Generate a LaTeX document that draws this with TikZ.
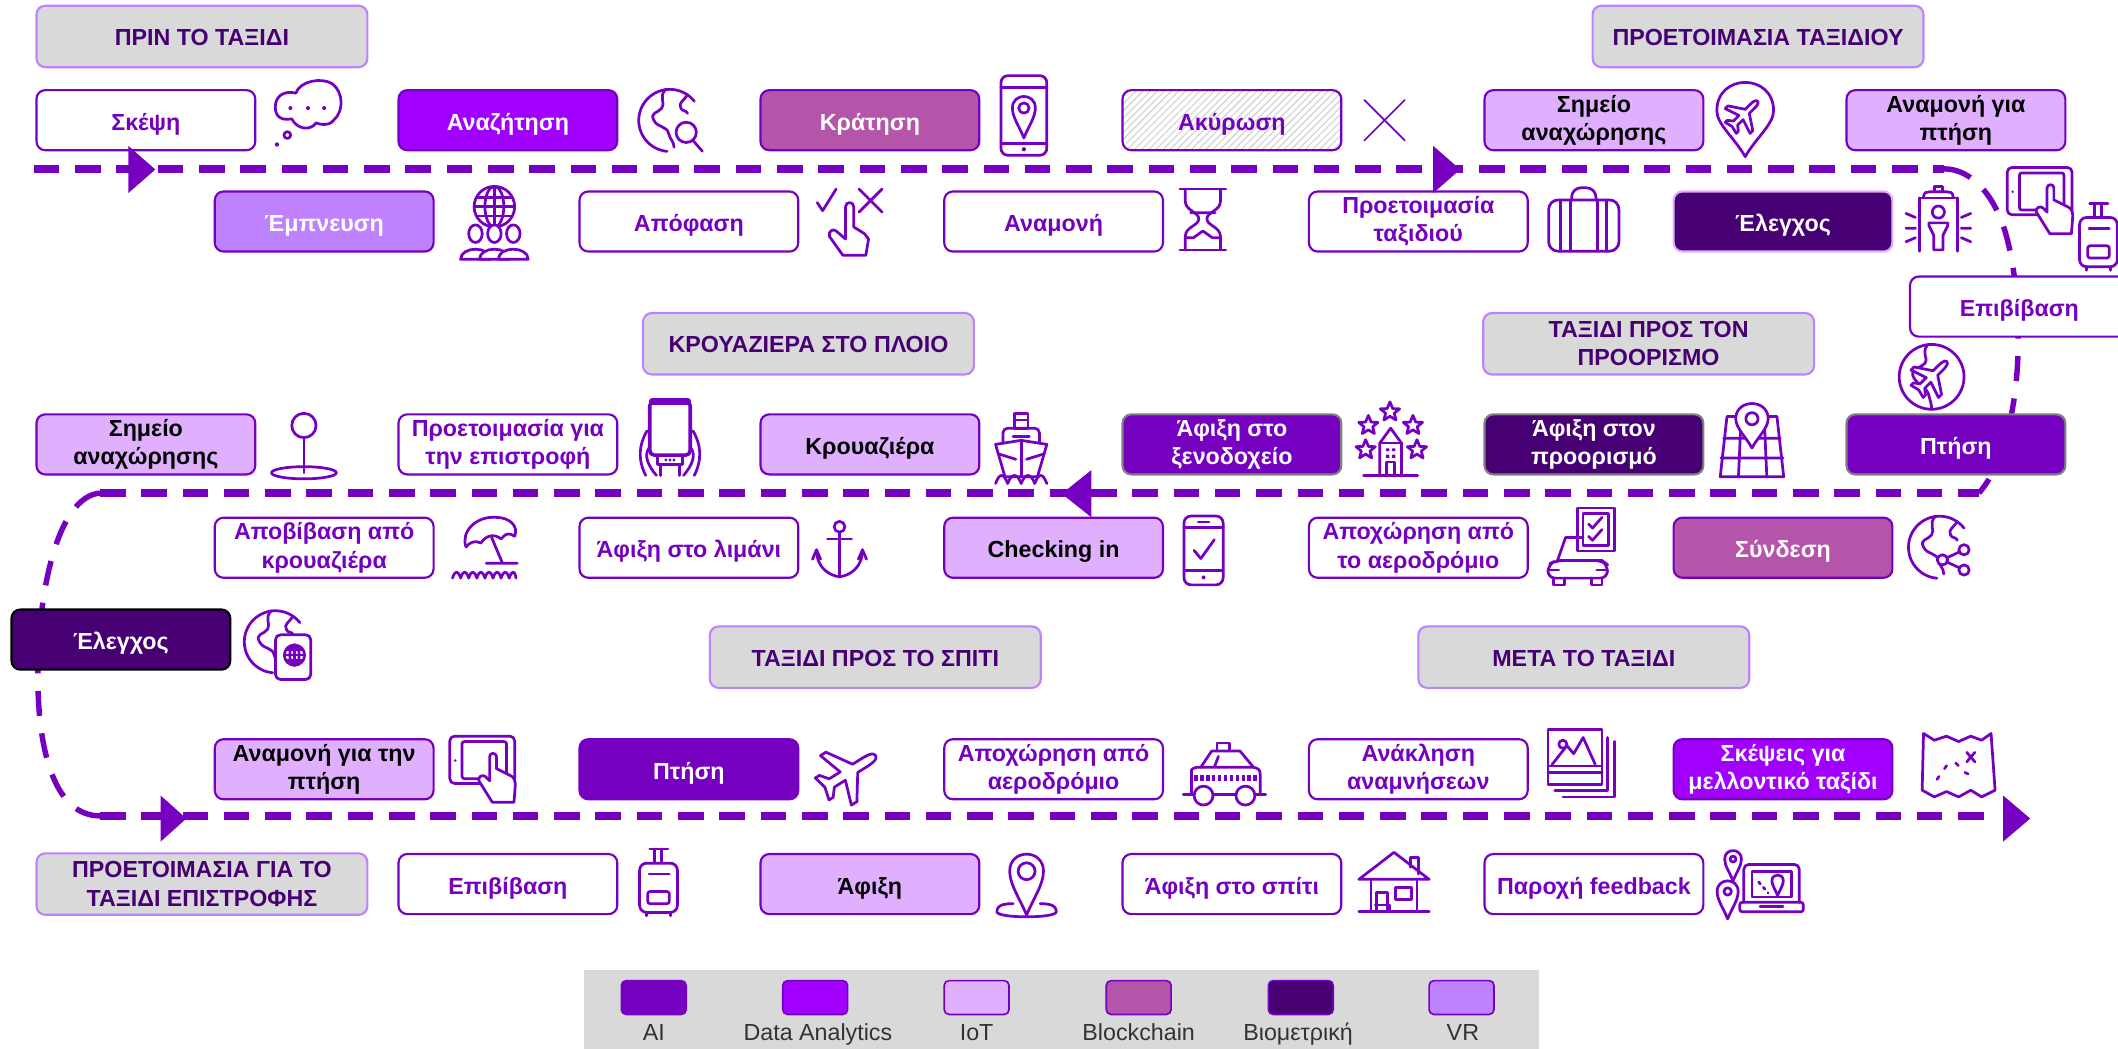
\documentclass[tikz,border=0pt]{standalone}
\usepackage{fontspec}
\setmainfont{Liberation Sans}
\usetikzlibrary{patterns}
\definecolor{aic}{HTML}{7500C0}
\definecolor{dac}{HTML}{A100FF}
\definecolor{iotc}{HTML}{E0B0FF}
\definecolor{bcc}{HTML}{B455AA}
\definecolor{bioc}{HTML}{460073}
\definecolor{vrc}{HTML}{BE82FF}
\definecolor{greyc}{HTML}{D9D9D9}
\def\strutH{10.4pt}
\tikzset{
 boxbase/.style={rectangle,rounded corners=0.13cm,draw=aic,line width=0.9pt,minimum width=3.24cm,minimum height=0.89cm,inner sep=0pt,align=center,font=\bfseries\fontsize{9.8}{11.9}\selectfont,execute at begin node={\rule{0pt}{\strutH}}},
 bwhite/.style={boxbase,fill=white,text=aic},
 bhatch/.style={boxbase,pattern=north east lines,pattern color=gray!40,text=aic},
 bai/.style={boxbase,fill=aic,text=white},
 bda/.style={boxbase,fill=dac,text=white},
 biot/.style={boxbase,fill=iotc,text=black},
 bbc/.style={boxbase,fill=bcc,text=white},
 bbio/.style={boxbase,fill=bioc,text=white},
 bvr/.style={boxbase,fill=vrc,text=white},
 bhead/.style={boxbase,fill=greyc,text=bioc,draw=vrc,minimum width=4.9cm,minimum height=0.91cm,/utils/exec={\def\strutH{7.6pt}}},
 swatch/.style={rectangle,rounded corners=0.07cm,draw=aic,line width=0.7pt,minimum width=0.96cm,minimum height=0.5cm,inner sep=0pt},
 leglab/.style={inner sep=0pt,anchor=base,font=\fontsize{9.8}{12}\selectfont,text=black!80},
 mainroute/.style={draw=aic,line width=3.4pt,dash pattern=on 10.77pt off 6.63pt},
 bendroute/.style={draw=aic,line width=2.3pt,dash pattern=on 12pt off 7.4pt on 10.5pt off 7.4pt on 10.5pt off 7.4pt on 10.5pt off 7.4pt},
 headtip/.style={fill=aic},
}
\newcommand\ico[3]{\begin{scope}[shift={(#1,#2)},color=aic,line width=1.15pt,line cap=round,line join=round]#3\end{scope}}
\newcommand\PinShape{\draw (0,26) .. controls (-4,16) and (-10,8) .. (-10,0) .. controls (-10,-13.5) and (10,-13.5) .. (10,0) .. controls (10,8) and (4,16) .. (0,26) -- cycle;}
\newcommand\PlaneShape{\draw[fill=white] (0,-20) .. controls (3,-20) and (3,-14) .. (3,-10) -- (3,-5) -- (18,5) -- (18,9) -- (3,4) -- (3,12) -- (8,16) -- (8,19) -- (0,17) -- (-8,19) -- (-8,16) -- (-3,12) -- (-3,4) -- (-18,9) -- (-18,5) -- (-3,-5) -- (-3,-10) .. controls (-3,-14) and (-3,-20) .. (0,-20) -- cycle;}
\newcommand\GlobeArc{\draw (18,-14) arc (-38:-265:23);
 \draw (-3,-23) .. controls (-9,-17) and (-3,-13) .. (-6,-9) .. controls (-9,-5) and (-15,-6) .. (-12,0) .. controls (-9,6) and (-2,4) .. (-1,10) .. controls (0,14) and (3,16) .. (3,20);
 \draw (13,-19) .. controls (10,-14) and (6,-13) .. (8,-9) .. controls (9,-6) and (12,-8) .. (13,-5);}
\newcommand\HandShape{\draw[fill=white] (2,0) -- (2,-10) .. controls (2,-13) and (7,-13) .. (7,-10) -- (7,-1) -- (17,4) .. controls (20,5) and (21,8) .. (21,11) -- (20,24) -- (4,24) -- (-6,8) .. controls (-7,5) and (-3,3) .. (-1,5) -- (2,8) -- cycle;}
\newcommand\TabletHand{\draw[rounded corners=2] (-24,-25) rectangle (24,10);
 \draw[rounded corners=1] (-15,-21) rectangle (18,6.5);
 \fill (-20,-7) circle (1);
 \begin{scope}[shift={(3.5,0)}]\HandShape\end{scope}}
\newcommand\Trolley{\draw (-6.5,-24) -- (7,-24); \draw (-3,-24) -- (-3,-13.5) (2,-24) -- (2,-13.5);
 \draw[rounded corners=3] (-14,-13.5) rectangle (14,23);
 \draw (-7,-5.5) -- (8,-5.5);
 \draw[rounded corners=1] (-8,7.5) rectangle (8,16.5);
 \draw (-9,23) -- (-9,25.5) (9,23) -- (9,25.5);}
\newcommand\StarShape{\begin{scope}[scale=1.15]\draw (0,-6.5) -- (1.8,-2.2) -- (6.2,-2) -- (2.8,0.8) -- (3.9,5.2) -- (0,2.8) -- (-3.9,5.2) -- (-2.8,0.8) -- (-6.2,-2) -- (-1.8,-2.2) -- cycle;\end{scope}}
\begin{document}
\begin{tikzpicture}[x=0.02cm,y=-0.02cm]
\useasboundingbox (0,0) rectangle (1568,776.6);
\clip (0,0) rectangle (1568,776.6);
% route ends
\coordinate (ra) at (25,125); \coordinate (rb) at (1439,125);
\coordinate (rn) at (1484,170);
\coordinate (rm) at (1494,255);
\coordinate (rc) at (1465,365); \coordinate (rd) at (74,365);
\coordinate (lm) at (28,500);
\coordinate (re) at (74,604); \coordinate (rf) at (1476,604);
\draw[mainroute] (ra) -- (rb);
\draw[bendroute] (rb) .. controls (1460,125) and (1476,145) .. (rn) .. controls (1490,190) and (1494,215) .. (rm) .. controls (1494,300) and (1483,345) .. (rc);
\draw[mainroute] (rd) -- (rc);
\draw[bendroute] (rd) .. controls (42,368) and (28,440) .. (lm) .. controls (28,560) and (42,604) .. (re);
\draw[mainroute] (re) -- (rf);
% headers
\node[bhead] (h1) at (149.5,27) {ΠΡΙΝ ΤΟ ΤΑΞΙΔΙ};
\node[bhead] (h2) at (1301.5,27) {ΠΡΟΕΤΟΙΜΑΣΙΑ ΤΑΞΙΔΙΟΥ};
\node[bhead] (h3) at (598.5,254.5) {ΚΡΟΥΑΖΙΕΡΑ ΣΤΟ ΠΛΟΙΟ};
\node[bhead] (h4) at (1220.5,254.5) {ΤΑΞΙΔΙ ΠΡΟΣ ΤΟΝ\\ΠΡΟΟΡΙΣΜΟ};
\node[bhead] (h5) at (648,486.5) {ΤΑΞΙΔΙ ΠΡΟΣ ΤΟ ΣΠΙΤΙ};
\node[bhead] (h6) at (1172.5,486.5) {ΜΕΤΑ ΤΟ ΤΑΞΙΔΙ};
\node[bhead] (h7) at (149.5,654.5) {ΠΡΟΕΤΟΙΜΑΣΙΑ ΓΙΑ ΤΟ\\ΤΑΞΙΔΙ ΕΠΙΣΤΡΟΦΗΣ};
% row 1
\node[bwhite] (a1) at (108,89) {Σκέψη};
\node[bda] (a2) at (376,89) {Αναζήτηση};
\node[bbc] (a3) at (644,89) {Κράτηση};
\node[bhatch] (a4) at (912,89) {Ακύρωση};
\node[biot] (a5) at (1180,89) {Σημείο\\αναχώρησης};
\node[biot] (a6) at (1448,89) {Αναμονή για\\πτήση};
% row 2
\node[bvr] (b1) at (240,164) {Έμπνευση};
\node[bwhite] (b2) at (510,164) {Απόφαση};
\node[bwhite] (b3) at (780,164) {Αναμονή};
\node[bwhite] (b4) at (1050,164) {Προετοιμασία\\ταξιδιού};
\node[bbio,draw=iotc] (b5) at (1320,164) {Έλεγχος};
\node[bwhite] (b6) at (1495,227) {Επιβίβαση};
% row 3
\node[biot] (c1) at (108,329) {Σημείο\\αναχώρησης};
\node[bwhite] (c2) at (376,329) {Προετοιμασία για\\την επιστροφή};
\node[biot] (c3) at (644,329) {Κρουαζιέρα};
\node[bai,draw=gray] (c4) at (912,329) {Άφιξη στο\\ξενοδοχείο};
\node[bbio,draw=gray] (c5) at (1180,329) {Άφιξη στον\\προορισμό};
\node[bai,draw=gray] (c6) at (1448,329) {Πτήση};
% row 4
\node[bwhite] (d1) at (240,405.5) {Αποβίβαση από\\κρουαζιέρα};
\node[bwhite] (d2) at (510,405.5) {Άφιξη στο λιμάνι};
\node[biot] (d3) at (780,405.5) {Checking in};
\node[bwhite] (d4) at (1050,405.5) {Αποχώρηση από\\το αεροδρόμιο};
\node[bbc] (d5) at (1320,405.5) {Σύνδεση};
\node[bbio,draw=black] (e1) at (89.5,473.5) {Έλεγχος};
% row 5
\node[biot] (f1) at (240,569.5) {Αναμονή για την\\πτήση};
\node[bai] (f2) at (510,569.5) {Πτήση};
\node[bwhite] (f3) at (780,569.5) {Αποχώρηση από\\αεροδρόμιο};
\node[bwhite] (f4) at (1050,569.5) {Ανάκληση\\αναμνήσεων};
\node[bda] (f5) at (1320,569.5) {Σκέψεις για\\μελλοντικό ταξίδι};
% row 6
\node[bwhite] (g1) at (376,654.5) {Επιβίβαση};
\node[biot] (g2) at (644,654.5) {Άφιξη};
\node[bwhite] (g3) at (912,654.5) {Άφιξη στο σπίτι};
\node[bwhite] (g4) at (1180,654.5) {Παροχή feedback};
% arrowheads on the route
\fill[headtip] (95,108) -- (115,125.5) -- (95,143) -- cycle;
\fill[headtip] (1061,108) -- (1081,125.5) -- (1061,143) -- cycle;
\fill[headtip] (808,348) -- (786,365.5) -- (808,383) -- cycle;
\fill[headtip] (119,589) -- (138,606) -- (119,623) -- cycle;
\fill[headtip] (1483,589) -- (1503,606) -- (1483,623) -- cycle;
% legend
\fill[greyc] (432,718) rectangle (1139,777);
\node[swatch,fill=aic] (s1) at (484,738.5) {};
\node[swatch,fill=dac] (s2) at (603.5,738.5) {};
\node[swatch,fill=iotc] (s3) at (723,738.5) {};
\node[swatch,fill=bcc] (s4) at (843,738.5) {};
\node[swatch,fill=bioc] (s5) at (963,738.5) {};
\node[swatch,fill=vrc] (s6) at (1082,738.5) {};
\node[leglab] (t1) at (484,770) {AI};
\node[leglab] (t2) at (605.5,770) {Data Analytics};
\node[leglab] (t3) at (723,770) {IoT};
\node[leglab] (t4) at (843,770) {Blockchain};
\node[leglab] (t5) at (961,770) {Βιομετρική};
\node[leglab] (t6) at (1083,770) {VR};
% ---- icons ----
% thought cloud
\ico{0}{0}{\draw (216,88) .. controls (206,90) and (203,84) .. (204,77) .. controls (205,70) and (212,67) .. (219,69) .. controls (222,60) and (238,57) .. (246,62) .. controls (254,68) and (255,82) .. (247,89) .. controls (243,94) and (237,92) .. (234,91) .. controls (230,97) and (220,96) .. (216,88) -- cycle;
 \draw (212.7,100) circle (2.5); \fill (205,107) circle (1.6);
 \fill (215,80) circle (1.5) (228,80) circle (1.5) (240,80) circle (1.5);}
% globe + search
\ico{496}{89}{\GlobeArc \draw[fill=white] (12,9) circle (7.5); \draw (17,15) -- (24,23);}
% phone + pin
\ico{758}{86}{\draw[rounded corners=3] (-17,-30) rectangle (17,29); \draw (-17,-21) -- (17,-21) (-17,20) -- (17,20); \fill (0,24.5) circle (1.6);
 \begin{scope}[shift={(0,-6)},scale=0.85]\PinShape \draw (0,0) circle (4.5);\end{scope}}
% X
\ico{1025}{89}{\draw[line width=0.7pt] (-15,-15) -- (15,15) (-15,15) -- (15,-15);}
% pin with plane
\ico{1292}{84}{\draw (0,32) .. controls (-8,18) and (-21,8) .. (-21,-2) .. controls (-21,-30) and (21,-30) .. (21,-2) .. controls (21,8) and (8,18) .. (0,32) -- cycle;
 \begin{scope}[rotate=-45,scale=0.72,shift={(0,2)}]\PlaneShape\end{scope}}
% tablet hand and trolley, top right
\ico{1510}{149}{\TabletHand}
\ico{1553.5}{174.5}{\Trolley}
% people + globe
\ico{366}{153}{\draw (0,0) circle (15); \draw (0,0) ellipse (7 and 15); \draw (0,-15) -- (0,15) (-13,-7) -- (13,-7) (-15,0) -- (15,0) (-13,7) -- (13,7);
 \foreach \q in {-14,0,14}{\draw[fill=white] (\q,20) ellipse (5 and 6.5); \draw[fill=white] (\q-11,39) .. controls (\q-11,29) and (\q+11,29) .. (\q+11,39) -- cycle;}}
% check, X, finger
\ico{628}{165}{\draw (-23,-15) -- (-19,-9) -- (-9,-25) (8,-25) -- (25,-8) (8,-8) -- (25,-25);
 \draw (-2,3) -- (-2,-12) .. controls (-2,-16) and (4,-16) .. (4,-12) -- (4,3) -- (12,8) -- (15,12) -- (13,24) -- (-4,24) -- (-14,10) .. controls (-15,6) and (-11,4) .. (-9,6) -- (-2,12) -- cycle;}
% hourglass
\ico{890.5}{162}{\draw (-17,-22) -- (17,-22) (-17,23) -- (17,23);
 \draw (-13,-22) -- (-13,-13) .. controls (-13,-6) and (-3,-5) .. (-3,0) .. controls (-3,5) and (-13,6) .. (-13,13) -- (-13,23);
 \draw (13,-22) -- (13,-13) .. controls (13,-6) and (3,-5) .. (3,0) .. controls (3,5) and (13,6) .. (13,13) -- (13,23);
 \draw (-9,-4.5) -- (9,-4.5) (-13,14) -- (-7,14) -- (0,9) -- (7,14) -- (13,14);}
% suitcase
\ico{1172.5}{163}{\draw[rounded corners=4] (-26,-15) rectangle (26,23); \draw[rounded corners=4] (-9,-15) -- (-9,-24) -- (9,-24) -- (9,-15); \draw (-17,-15) -- (-17,23) (-10,-15) -- (-10,23) (10,-15) -- (10,23) (17,-15) -- (17,23);}
% body scanner
\ico{1435}{162}{\draw (-14,24) -- (-14,-15.5) (14,24) -- (14,-15.5) (-14,-15.5) -- (14,-15.5); \draw (-11,-16) .. controls (-11,-20) and (-8,-20) .. (-6,-20) -- (6,-20) .. controls (8,-20) and (11,-20) .. (11,-16); \draw (-3,-20) -- (-3,-24) -- (3,-24) -- (3,-20);
 \draw (0,-5) circle (4.5); \draw (-7,3) -- (7,3) -- (7,5) -- (3.5,12) -- (3.5,23) -- (-3.5,23) -- (-3.5,12) -- (-7,5) -- cycle;
 \draw (-24,-4) -- (-17,-1) (-24,7) -- (-17,7) (-24,17) -- (-17,14) (24,-4) -- (17,-1) (24,7) -- (17,7) (24,17) -- (17,14);}
% globe + plane
\ico{1430}{279}{\draw (0,0) circle (24); \draw (-3,-24) .. controls (-8,-16) and (-2,-15) .. (-5,-10) .. controls (-9,-6) and (-17,-6) .. (-13,1) .. controls (-10,6) and (-3,8) .. (-2,14) .. controls (-1,18) and (0,20) .. (0,24);
 \begin{scope}[rotate=-45,scale=0.8]\PlaneShape\end{scope}}
% pin on a base (thin stem)
\ico{225}{315}{\draw (0,0) circle (9); \draw (0,9) -- (0,35); \draw (0,35) ellipse (24 and 4.5);}
% hands holding a phone
\ico{496}{325}{\draw[rounded corners=2,line width=1.5pt] (-15,-28) rectangle (15,12); \draw[line width=3pt] (-13,-28) -- (13,-28);
 \draw (-17,-6) .. controls (-23,4) and (-24,15) .. (-18,27) (-15,6) .. controls (-20,12) and (-16,20) .. (-10,27) (17,-6) .. controls (23,4) and (24,15) .. (18,27) (15,6) .. controls (20,12) and (16,20) .. (10,27);
 \draw (-9,12) -- (-9,19) -- (9,19) -- (9,12) (-7,19) -- (-7,27) (7,19) -- (7,27); \fill (-3,15.5) circle (1.2) (0,15.5) circle (1.2) (3,15.5) circle (1.2);}
% ship
\ico{756}{332}{\draw (-5,-26) rectangle (5,-15); \draw (-5,-21) -- (5,-21); \draw[rounded corners=2] (-13.5,-4) -- (-13.5,-15) -- (13.5,-15) -- (13.5,-4); \draw (-6,-9) -- (6,-9);
 \draw (-19,-3) -- (0,-6) -- (19,-3) -- (12,21) -- (-12,21) -- cycle; \draw (0,-6) -- (0,20); \draw (-17,4) -- (-4,8) (17,4) -- (4,8);
 \draw (-19,26) .. controls (-16,18) and (-13,18) .. (-10,26) .. controls (-7,18) and (-3,18) .. (0,26) .. controls (3,18) and (7,18) .. (10,26) .. controls (13,18) and (16,18) .. (19,26);}
% stars + hotel
\ico{1029}{305}{\StarShape}\ico{1013}{315}{\StarShape}\ico{1046}{315}{\StarShape}\ico{1011}{333}{\StarShape}\ico{1049}{333}{\StarShape}
\ico{1029.5}{335}{\draw (-8,16) -- (-8,-7) -- (0,-18) -- (8,-7) -- (8,16); \draw (-8,-7) -- (8,-7); \draw (-20,17) -- (20,17); \draw (-3,7) rectangle (3,17); \fill (-3.5,-3) rectangle (-1,-1) (1,-3) rectangle (3.5,-1) (-3.5,1.5) rectangle (-1,4) (1,1.5) rectangle (3.5,4);}
% map + pin
\ico{1297}{311}{\draw (-18.5,-2.6) -- (-23.5,42) -- (23.5,42) -- (18.5,-2.6) -- cycle; \draw (-23,28) -- (23,28) (-21,13.4) -- (21,13.4) (-10,42) -- (-8,-2.6) (11,42) -- (9,-2.6);
 \draw[fill=white] (0,20.7) .. controls (-4,13) and (-12,6) .. (-12,-1) .. controls (-12,-16) and (12,-16) .. (12,-1) .. controls (12,6) and (4,13) .. (0,20.7) -- cycle; \draw (0,-1) circle (4.5);}
% beach umbrella
\ico{0}{0}{\draw (345,405) .. controls (341,394) and (352,382) .. (367,383) .. controls (378,383) and (384,390) .. (381,397) .. controls (377,394) and (374,395) .. (371,399) .. controls (366,395) and (360,396) .. (356,402) .. controls (352,400) and (348,401) .. (345,405) -- cycle;
 \draw (364,398) -- (372,417) (360,417) -- (383,417);
 \draw (335,428) .. controls (337,422) and (339,422) .. (341,428) .. controls (343,422) and (345,422) .. (347,428) .. controls (349,422) and (351,422) .. (353,428) .. controls (355,422) and (357,422) .. (359,428) .. controls (361,422) and (363,422) .. (365,428) .. controls (367,422) and (369,422) .. (371,428) .. controls (373,422) and (375,422) .. (377,428) .. controls (379,422) and (381,422) .. (382,428);}
% anchor
\ico{621.5}{405}{\draw (0,-15) circle (4); \draw (0,-11) -- (0,22) (-9,-6) -- (9,-6); \draw (-17,2) .. controls (-17,15) and (-8,21) .. (0,22) .. controls (8,21) and (17,15) .. (17,2); \draw (-17,2) -- (-14,9) (-17,2) -- (-20,9) (17,2) -- (14,9) (17,2) -- (20,9);}
% phone + check
\ico{891}{407.5}{\draw[rounded corners=3] (-14.5,-25.5) rectangle (14.5,25.5); \draw (-14.5,-17) -- (14.5,-17) (-14.5,15) -- (14.5,15) (-4,-21) -- (4,-21); \fill (0,20) circle (1.5); \draw (-7,0) -- (-2,6) -- (8,-8);}
% car + checklist
\ico{0}{0}{\draw (1168,376) rectangle (1195,408); \draw (1172,380) rectangle (1191,404); \draw (1176,388) -- (1179,391) -- (1186,383) (1176,397) -- (1179,400) -- (1186,392);
 \draw (1172,398) -- (1159,398) -- (1153,415) (1153,415) -- (1186,415);
 \draw[rounded corners=3] (1146,428) -- (1146,418) -- (1152,415) -- (1186,415) -- (1190,418) -- (1190,428) -- cycle; \draw (1146,422) -- (1154,422) (1182,422) -- (1190,422); \draw (1150,428) -- (1150,433) -- (1158,433) -- (1158,428) (1178,428) -- (1178,433) -- (1186,433) -- (1186,428);}
% globe + share
\ico{1436}{405}{\draw (18,-14) arc (-38:-265:23);
 \draw (-3,-23) .. controls (-9,-17) and (-3,-13) .. (-6,-9) .. controls (-9,-5) and (-15,-6) .. (-12,0) .. controls (-9,6) and (-2,4) .. (-1,10) .. controls (0,14) and (3,16) .. (3,20);
 \draw (13,-19) .. controls (10,-14) and (6,-13) .. (8,-9) .. controls (9,-6) and (12,-8) .. (13,-5);
 \draw (18,2) -- (2,9.5) -- (18,17); \draw[fill=white] (18,2) circle (3.8) (2,9.5) circle (3.8) (18,17) circle (3.8);}
% globe + passport
\ico{204}{475}{\GlobeArc \draw[fill=white,rounded corners=2] (0,-5) rectangle (26,28); \draw (14,10) circle (7.5); \draw (14,2.5) -- (14,17.5) (6.5,10) -- (21.5,10) (8,6) -- (20,6) (8,14) -- (20,14); \draw (14,10) ellipse (3.5 and 7.5);}
% tablet hand
\ico{357}{570}{\TabletHand}
% plane
\ico{628}{572}{\begin{scope}[rotate=-58,scale=1.2]\PlaneShape\end{scope}}
% taxi
\ico{906}{570}{\draw (-30,18) -- (31,18); \draw (-24,18) -- (-24,0) .. controls (-22,-2) and (-20,-2) .. (-17,-2) -- (-9,-14) -- (12,-14) -- (22,-2) .. controls (26,-1) and (27,0) .. (27,4) -- (27,18);
 \draw (-17,-2) -- (22,-2) (-4,-10) -- (-7,-2);
 \draw (-5,-14) -- (-5,-20) -- (4,-20) -- (4,-14);
 \draw[dash pattern=on 1.5pt off 1pt,line width=2.2pt,line cap=butt] (-22,6) -- (26,6);
 \draw[fill=white] (-15,19) circle (7) (16,19) circle (7);}
% photos
\ico{0}{0}{\draw (1146,540) rectangle (1186,581); \draw (1146,567) -- (1186,567) (1146,572) -- (1186,572); \draw (1190,546) -- (1190,585) -- (1151,585) (1195,549) -- (1195,590) -- (1157,590);
 \draw (1157,551) circle (3); \draw (1149,566) -- (1160,552) -- (1165,558) -- (1172,546) -- (1181,566);}
% treasure map
\ico{0}{0}{\draw (1424,543) -- (1432,548) -- (1441,545) -- (1450,549) -- (1459,545) -- (1467,548) -- (1474,543) -- (1477,585) -- (1467,590) -- (1459,585) -- (1450,590) -- (1441,586) -- (1432,590) -- (1423,585) -- cycle;
 \draw (1456,557) -- (1462,564) (1462,557) -- (1456,564);
 \draw[dash pattern=on 1.5pt off 4pt] (1434,577) -- (1441,567) -- (1448,565) -- (1455,572) -- (1461,575);}
% trolley
\ico{487.5}{652.5}{\Trolley}
% pin on base
\ico{760}{645}{\begin{scope}[scale=1.25]\PinShape \draw (0,0) circle (5);\end{scope}\draw (-22,30) .. controls (-22,24) and (-14,24) .. (-10,24) (22,30) .. controls (22,24) and (14,24) .. (10,24) (-22,30) .. controls (-22,35) and (22,35) .. (22,30);}
% house
\ico{1032}{654}{\draw (-26,-3) -- (0,-23) -- (26,-3) -- cycle; \draw (12,-12) -- (12,-19) -- (18,-19) -- (18,-7); \draw (-17,-3) -- (-17,21) (17,-3) -- (17,21) (-26,21) -- (26,21); \draw (-13,21) -- (-13,7) -- (-5,7) -- (-5,21) (-14,16) -- (-3,16) -- (-3,21); \draw (1,3) rectangle (13,12);}
% laptop with pins
\ico{1283}{636}{\begin{scope}[scale=0.62]\PinShape \draw (0,0) circle (3.5);\end{scope}}
\ico{1279}{660}{\begin{scope}[scale=0.78]\PinShape \draw (0,0) circle (3.5);\end{scope}}
\ico{0}{0}{\draw[rounded corners=2] (1291,668) -- (1291,640) -- (1332,640) -- (1332,668); \draw (1297,645) rectangle (1326,664); \draw[rounded corners=1] (1288,668) rectangle (1335,675); \draw (1303,671) -- (1320,671);
 \begin{scope}[shift={(1316,652)},scale=0.42]\PinShape\end{scope} \draw[dash pattern=on 1pt off 2pt] (1302,653) -- (1309,661);}
\end{tikzpicture}
\end{document}
